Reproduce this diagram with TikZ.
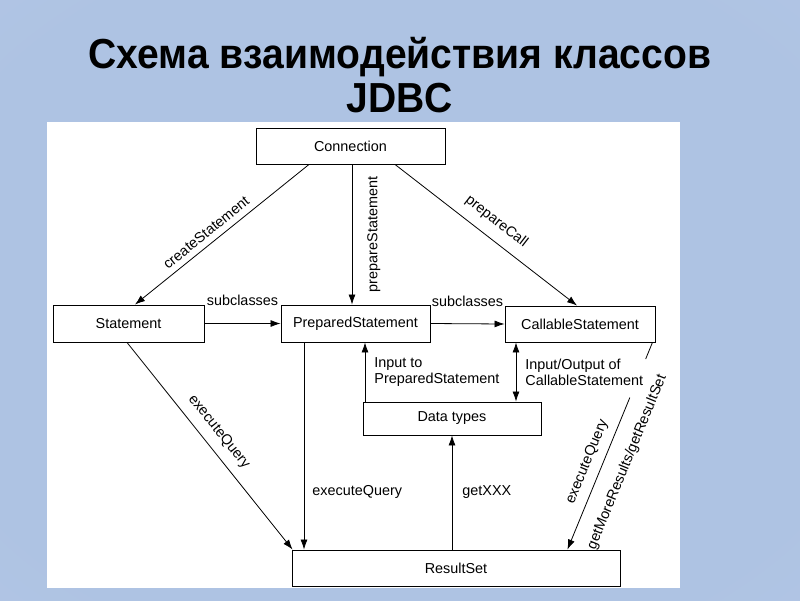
\documentclass[tikz,border=0pt]{standalone}
\usepackage{fontspec}
\setmainfont{Liberation Sans}
\newfontfamily\titlefont[FakeStretch=0.93]{Liberation Sans}
\usetikzlibrary{arrows.meta,calc}
\definecolor{bgin}{RGB}{174,195,227}
\definecolor{bgmid}{RGB}{181,200,230}
\definecolor{bgout}{RGB}{206,219,239}
\pgfdeclareradialshading{bgshade}{\pgfpoint{0bp}{0bp}}{color(0bp)=(bgin); color(30bp)=(bgin); color(50bp)=(bgmid); color(71bp)=(bgout)}
\begin{document}
\begin{tikzpicture}[x=1pt,y=-1pt,
  txt/.style={font=\fontsize{14.4}{16}\selectfont},
  box/.style={draw, line width=0.9pt, minimum height=36pt, inner sep=0pt, txt},
  arr/.style={-{Latex[length=10pt,width=7pt]}, line width=0.8pt},
  darr/.style={{Latex[length=10pt,width=7pt]}-{Latex[length=10pt,width=7pt]}, line width=0.8pt},
  plain/.style={line width=0.8pt},
  lbl/.style={txt, inner sep=2pt},
  ttl/.style={font=\titlefont\bfseries\fontsize{42}{48}\selectfont, anchor=base, inner sep=0pt}
]
\useasboundingbox (0,0) rectangle (800,600);
\shade[shading=bgshade] (0,0) rectangle (800,600);
\fill[white] (47,122) rectangle (680,588);

\node[ttl] (title) at (400,68) {Схема взаимодействия классов};
\node[ttl] (title2) at (400,112) {JDBC};

\node[box, minimum width=189pt] (conn) at (350.5,146) {Connection};
\node[box, minimum width=151pt, minimum height=37pt] (stmt) at (128.5,323.5) {Statement};
\node[box, minimum width=149pt, minimum height=37pt] (prep) at (355.5,323.5) {PreparedStatement};
\node[box, minimum width=150pt] (call) at (580,324) {CallableStatement};
\node[box, minimum width=178pt, minimum height=33pt] (data) at (452,418.5) {Data types};
\node[box, minimum width=328pt] (rs) at (456,568) {ResultSet};

% Connection -> three statements
\draw[arr] ([xshift=-41.5pt]conn.south) -- node[lbl, sloped, above, pos=0.55, inner sep=6pt]{createStatement} ([xshift=6.5pt]stmt.north);
\draw[arr] ([xshift=1.5pt]conn.south) -- node[lbl, pos=0.5, rotate=90, anchor=north, inner ysep=15pt]{prepareStatement} ([xshift=-3.5pt]prep.north);
\draw[arr] ([xshift=44.5pt]conn.south) -- node[lbl, sloped, above, pos=0.5, inner sep=10pt]{prepareCall} ([xshift=-3pt]call.north);

% subclasses
\draw[arr] (stmt.east) -- node[lbl, above, inner ysep=17pt]{subclasses} (prep.west);
\draw[arr] (prep.east) -- node[lbl, above, inner ysep=17pt]{subclasses} (call.west);

% Data types
\draw[arr] ([xshift=-87pt]data.north) -- node[lbl, right, align=left, inner xsep=9pt]{Input to\\PreparedStatement} ([xshift=-87pt]data.north |- prep.south);
\draw[darr] ([xshift=64pt]data.north) -- node[lbl, right, align=left, inner xsep=9pt]{Input/Output of\\CallableStatement} ([xshift=64pt]data.north |- call.south);

% to ResultSet
\draw[arr] ([xshift=-1.5pt]stmt.south) -- node[lbl, sloped, above, pos=0.48, inner sep=9pt]{executeQuery} ([xshift=1pt]rs.north west);
\draw[arr] ([xshift=-51.5pt]prep.south) -- node[lbl, pos=0.72, right, inner xsep=8pt]{executeQuery} ([xshift=-51.5pt]prep.south |- rs.north);
\draw[arr] ([xshift=-4pt]rs.north) -- node[lbl, pos=0.5, right, inner xsep=10pt]{getXXX} (data.south);

\coordinate (cs) at ([xshift=-3pt]call.south east);
\coordinate (ce) at ([xshift=-53pt]rs.north east);
\draw[plain] (cs) -- ($(cs)!0.08!(ce)$);
\draw[arr] ($(cs)!0.266!(ce)$) -- node[lbl, sloped, above, pos=0.46, inner sep=8pt]{executeQuery} node[lbl, sloped, below, pos=0.37, inner sep=15pt]{getMoreResults/getResultSet} (ce);
\end{tikzpicture}
\end{document}
